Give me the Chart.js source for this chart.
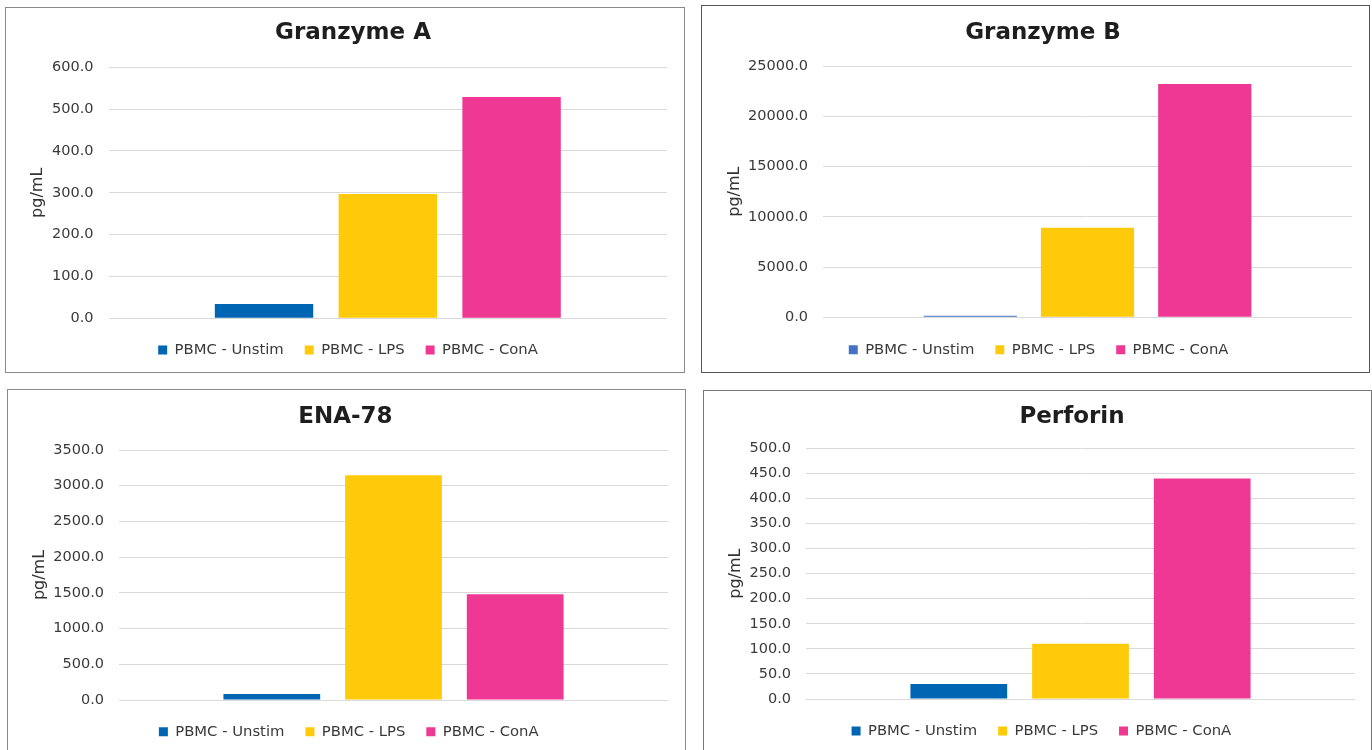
<!DOCTYPE html>
<html>
<head>
<meta charset="utf-8">
<script src="https://cdn.jsdelivr.net/npm/chart.js@4.4.1/dist/chart.umd.min.js"></script>
<style>
  html, body { margin: 0; padding: 0; background: #fff; overflow: hidden; }
  body { width: 1372px; height: 750px; position: relative; }
  .box { position: absolute; border: 1px solid #8a8a8a; background: #fff; box-sizing: content-box; }
  .box canvas { display: block; }
</style>
</head>
<body>
<div class="box" id="b1" style="left:5px;top:7px;width:678px;height:364px;"><canvas id="c1"></canvas></div>
<div class="box" id="b2" style="left:701px;top:5px;width:667px;height:366px;border-color:#555;"><canvas id="c2"></canvas></div>
<div class="box" id="b3" style="left:7px;top:389px;width:677px;height:370px;"><canvas id="c3"></canvas></div>
<div class="box" id="b4" style="left:703px;top:390px;width:667px;height:370px;border-color:#777;"><canvas id="c4"></canvas></div>
<script>
// ---- data ----
const seriesNames = ['PBMC - Unstim', 'PBMC - LPS', 'PBMC - ConA'];
const chartTitles = ['Granzyme A', 'Granzyme B', 'ENA-78', 'Perforin'];
const granzymeA = [34, 297, 529];
const granzymeB = [150, 8900, 23200];
const ena78 = [84, 3145, 1482];
const perforin = [30, 110, 440];
const yMaxes = [600, 25000, 3500, 500];
const ySteps = [100, 5000, 500, 50];
const yAxisTitle = 'pg/mL';

// ---- style ----
const blueA = '#0066B3', blueB = '#4472C4', yellow = '#FFCA0A', pink = '#EE3894';
const FONT = '"DejaVu Sans", Verdana, sans-serif';

// layout (canvas px): plotLeft, padRight, titleCx, titleCy, plotTop, plotBottom, legendCx, legendCy, yTitleX, H
const layouts = [
  {plotLeft:102.6, padRight:17, titleCx:347, titleCy:25.3, plotTop:59.3, plotBottom:310.3, legendCx:342, legendCy:342, yTitleX:32, H:364},
  {plotLeft:121, padRight:17, titleCx:341, titleCy:26.8, plotTop:60, plotBottom:311.3, legendCx:336.6, legendCy:343.7, yTitleX:33, H:366},
  {plotLeft:111, padRight:17, titleCx:337.4, titleCy:26.7, plotTop:60, plotBottom:310, legendCx:340.7, legendCy:341.7, yTitleX:32, H:370},
  {plotLeft:102, padRight:16, titleCx:368, titleCy:26.5, plotTop:57.3, plotBottom:308, legendCx:337.4, legendCy:340, yTitleX:31.5, H:370}
];

const TITLE_SIZE = 23, TITLE_LH = TITLE_SIZE * 1.2;
const LEG_SIZE = 14.8, LEG_PAD = 21;
const YT_SIZE = 16, YT_LH = YT_SIZE * 1.2;

const centerPlugin = {
  id: 'centerBlocks',
  afterLayout(chart) {
    const L = chart.options.plugins.centerBlocks;
    const t = chart.titleBlock;
    if (t) { const w = t.right - t.left; t.left = L.titleCx - w / 2; t.right = L.titleCx + w / 2; }
    const lg = chart.legend;
    if (lg) { const w = lg.right - lg.left; lg.left = L.legendCx - w / 2; lg.right = L.legendCx + w / 2; }
  }
};

function makeChart(id, idx, values, unstimColor) {
  const L = layouts[idx];
  const legendTop = L.legendCy - (LEG_PAD + LEG_SIZE / 2);
  const legendH = LEG_SIZE + LEG_PAD + 10;
  const padBottom = L.H - legendTop - legendH;
  const xHeight = legendTop - L.plotBottom;
  const titlePadTop = L.titleCy - TITLE_LH / 2;
  const titlePadBottom = L.plotTop - titlePadTop - TITLE_LH;
  const colors = [unstimColor, yellow, pink];
  new Chart(document.getElementById(id), {
    type: 'bar',
    data: {
      labels: [''],
      datasets: seriesNames.map((n, i) => ({
        label: n,
        data: [values[i]],
        backgroundColor: colors[i],
        borderWidth: 0,
        categoryPercentage: 0.665,
        barPercentage: 0.795
      }))
    },
    options: {
      responsive: true,
      maintainAspectRatio: false,
      animation: false,
      events: [],
      layout: { padding: { left: 0, top: 0, right: L.padRight, bottom: padBottom } },
      plugins: {
        centerBlocks: L,
        tooltip: { enabled: false },
        title: {
          display: true,
          text: chartTitles[idx],
          color: '#1e1e1e',
          font: { family: FONT, size: TITLE_SIZE, weight: 'bold', lineHeight: 1.2 },
          padding: { top: titlePadTop, bottom: titlePadBottom }
        },
        legend: {
          position: 'bottom',
          labels: {
            boxWidth: 9, boxHeight: 9,
            padding: LEG_PAD,
            color: '#3a3a3a',
            font: { family: FONT, size: LEG_SIZE }
          }
        }
      },
      scales: {
        x: {
          type: 'category',
          ticks: { display: false },
          grid: { display: false },
          border: { display: false },
          afterFit: s => { s.height = xHeight; }
        },
        y: {
          min: 0, max: yMaxes[idx],
          afterFit: s => { s.width = L.plotLeft; },
          ticks: {
            stepSize: ySteps[idx],
            padding: 15,
            color: '#3a3a3a',
            font: { family: FONT, size: 14.5 },
            callback: v => Number(v).toFixed(1)
          },
          grid: { color: '#D9D9D9', lineWidth: 1, drawTicks: false },
          border: { display: false },
          title: {
            display: true,
            text: yAxisTitle,
            color: '#333333',
            font: { family: FONT, size: YT_SIZE, lineHeight: 1.2 },
            padding: { top: L.yTitleX - YT_LH / 2, bottom: 0 }
          }
        }
      }
    },
    plugins: [centerPlugin]
  });
}

makeChart('c1', 0, granzymeA, blueA);
makeChart('c2', 1, granzymeB, blueB);
makeChart('c3', 2, ena78, blueA);
makeChart('c4', 3, perforin, blueA);
</script>
</body>
</html>
